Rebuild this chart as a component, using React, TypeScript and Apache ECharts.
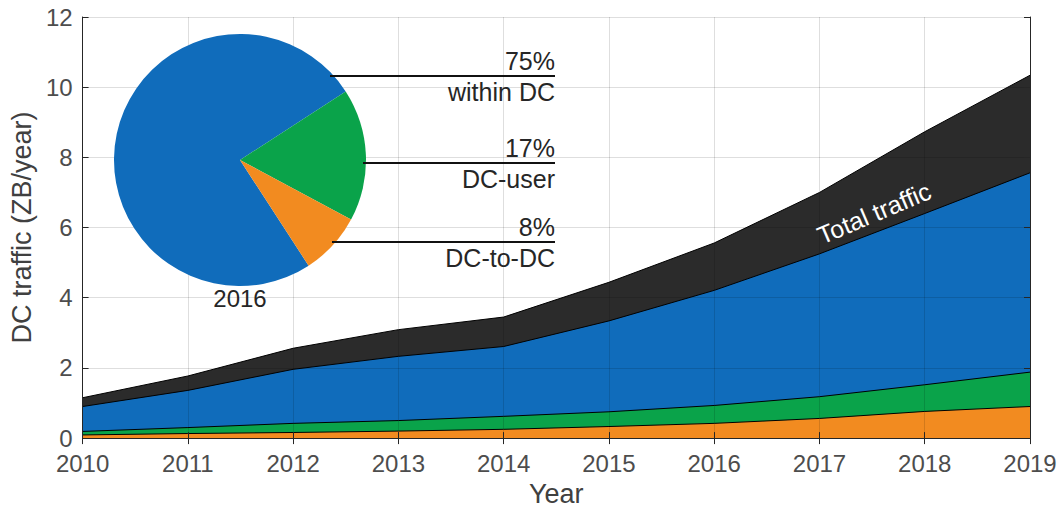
import React, { useEffect, useRef } from "react";
import * as echarts from "echarts";

const years = [2010, 2011, 2012, 2013, 2014, 2015, 2016, 2017, 2018, 2019];
// cumulative (stacked) tops, ZB/year
const totalTraffic = [1.15, 1.77, 2.56, 3.09, 3.45, 4.44, 5.56, 7.0, 8.73, 10.34];
const withinDcTop = [0.9, 1.36, 1.96, 2.33, 2.61, 3.34, 4.21, 5.25, 6.4, 7.56];
const dcUserTop = [0.19, 0.3, 0.42, 0.5, 0.62, 0.75, 0.93, 1.18, 1.52, 1.88];
const dcToDcTop = [0.09, 0.13, 0.16, 0.2, 0.25, 0.33, 0.42, 0.56, 0.76, 0.9];

const yTicks = [0, 2, 4, 6, 8, 10, 12];

const pieNames = ["within DC", "DC-user", "DC-to-DC"];
const pieShares = [75, 17, 8];
const pieYear = "2016";

const COL_BLACK = "#2b2b2b";
const COL_BLUE = "#106cbb";
const COL_GREEN = "#0aa34a";
const COL_ORANGE = "#f28b20";
const FONT = "'Liberation Sans', Arial, Helvetica, sans-serif";

export default function App() {
  const ref = useRef<HTMLDivElement>(null);
  useEffect(() => {
    if (!ref.current) return;
    const chart = echarts.init(ref.current, null, { renderer: "svg" });
    const mk = (name: string, vals: number[], color: string) => ({
      name,
      type: "line",
      data: years.map((y, i) => [y, vals[i]]),
      showSymbol: false,
      symbol: "none",
      lineStyle: { color: "#000", width: 1 },
      areaStyle: { color, opacity: 1, origin: 0 },
      z: 2,
      silent: true,
    });
    const axisLineStyle = { color: "#262626", width: 1 };
    const lblX = 555;
    const option: any = {
      animation: false,
      textStyle: { fontFamily: FONT },
      grid: { left: 79, right: 30, top: 17, bottom: 68 },
      xAxis: [
        {
          type: "value",
          min: years[0],
          max: years[years.length - 1],
          interval: 1,
          z: 5,
          name: "Year",
          nameLocation: "middle",
          nameGap: 41,
          nameTextStyle: { fontSize: 27, color: "#404040", fontFamily: FONT },
          axisLine: { show: true, lineStyle: axisLineStyle },
          axisTick: { show: true, inside: true, length: 6, lineStyle: axisLineStyle },
          axisLabel: {
            fontSize: 24,
            color: "#4d4d4d",
            margin: 13,
            fontFamily: FONT,
            formatter: (v: number) => String(v),
          },
          splitLine: { show: true, lineStyle: { color: "rgba(0,0,0,0.13)", width: 1 } },
        },
        {
          type: "value",
          position: "top",
          min: years[0],
          max: years[years.length - 1],
          interval: 1,
          z: 5,
          axisLine: { show: true, lineStyle: axisLineStyle },
          axisTick: { show: true, inside: true, length: 6, lineStyle: axisLineStyle },
          axisLabel: { show: false },
          splitLine: { show: false },
        },
      ],
      yAxis: [
        {
          type: "value",
          min: yTicks[0],
          max: yTicks[yTicks.length - 1],
          interval: 2,
          z: 5,
          name: "DC traffic (ZB/year)",
          nameLocation: "middle",
          nameGap: 42,
          nameTextStyle: { fontSize: 27, color: "#404040", fontFamily: FONT },
          axisLine: { show: true, lineStyle: axisLineStyle },
          axisTick: { show: true, inside: true, length: 6, lineStyle: axisLineStyle },
          axisLabel: { fontSize: 24, color: "#4d4d4d", margin: 10, fontFamily: FONT },
          splitLine: { show: true, lineStyle: { color: "rgba(0,0,0,0.13)", width: 1 } },
        },
        {
          type: "value",
          position: "right",
          min: yTicks[0],
          max: yTicks[yTicks.length - 1],
          interval: 2,
          z: 5,
          axisLine: { show: true, lineStyle: axisLineStyle },
          axisTick: { show: true, inside: true, length: 6, lineStyle: axisLineStyle },
          axisLabel: { show: false },
          splitLine: { show: false },
        },
      ],
      series: [
        mk("Total traffic", totalTraffic, COL_BLACK),
        mk("within DC", withinDcTop, COL_BLUE),
        mk("DC-user", dcUserTop, COL_GREEN),
        mk("DC-to-DC", dcToDcTop, COL_ORANGE),
        {
          type: "pie",
          center: [240, 160],
          radius: 126,
          startAngle: 303,
          clockwise: true,
          z: 10,
          silent: true,
          label: { show: false },
          labelLine: { show: false },
          itemStyle: { borderWidth: 0 },
          data: pieNames.map((n, i) => ({
            name: n,
            value: pieShares[i],
            itemStyle: { color: [COL_BLUE, COL_GREEN, COL_ORANGE][i] },
          })),
        },
      ],
      graphic: [
        { type: "line", z: 20, shape: { x1: 330, y1: 76, x2: lblX, y2: 76 }, style: { stroke: "#111", lineWidth: 2 } },
        { type: "line", z: 20, shape: { x1: 363, y1: 163, x2: lblX, y2: 163 }, style: { stroke: "#111", lineWidth: 2 } },
        { type: "line", z: 20, shape: { x1: 332, y1: 242, x2: lblX, y2: 242 }, style: { stroke: "#111", lineWidth: 2 } },
        ...[76, 163, 242].flatMap((y, i) => [
          {
            type: "text",
            z: 20,
            x: lblX,
            y: y - 3,
            style: {
              text: pieShares[i] + "%",
              fontSize: 25,
              fontFamily: FONT,
              fill: "#262626",
              textAlign: "right",
              textVerticalAlign: "bottom",
            },
          },
          {
            type: "text",
            z: 20,
            x: lblX,
            y: y + 3,
            style: {
              text: pieNames[i],
              fontSize: 25,
              fontFamily: FONT,
              fill: "#262626",
              textAlign: "right",
              textVerticalAlign: "top",
            },
          },
        ]),
        {
          type: "text",
          z: 20,
          x: 240,
          y: 298,
          style: {
            text: pieYear,
            fontSize: 24,
            fontFamily: FONT,
            fill: "#262626",
            textAlign: "center",
            textVerticalAlign: "middle",
          },
        },
        {
          type: "text",
          z: 20,
          x: 874,
          y: 213,
          rotation: (23 * Math.PI) / 180,
          style: {
            text: "Total traffic",
            fontSize: 25,
            fontFamily: FONT,
            fill: "#ffffff",
            textAlign: "center",
            textVerticalAlign: "middle",
          },
        },
      ],
    };
    chart.setOption(option);
    return () => chart.dispose();
  }, []);
  return (
    <div
      ref={ref}
      style={{ position: "fixed", left: 0, top: 0, width: 1060, height: 512, background: "#fff" }}
    />
  );
}
